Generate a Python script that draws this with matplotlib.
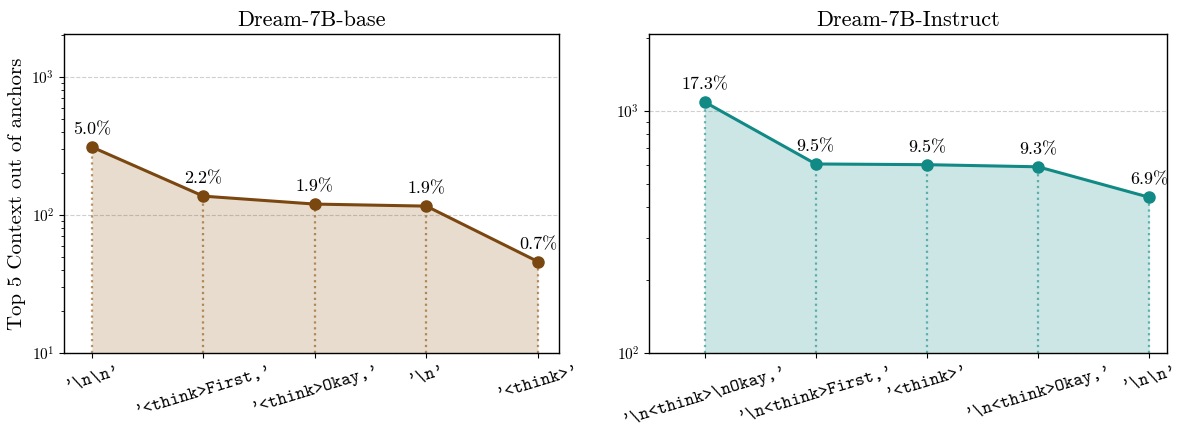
import matplotlib
matplotlib.use("Agg")
import matplotlib.pyplot as plt

plt.rcParams['font.family'] = 'serif'
plt.rcParams['font.serif'] = ['cmr10', 'DejaVu Serif']
plt.rcParams['mathtext.fontset'] = 'cm'
plt.rcParams['axes.formatter.use_mathtext'] = True

# ---- data ----
base_labels = ["'\\n\\n'", "'<think>First,'", "'<think>Okay,'", "'\\n'", "'<think>'"]
base_counts = [311, 137, 120, 116, 46]
base_pct = ["5.0%", "2.2%", "1.9%", "1.9%", "0.7%"]

inst_labels = ["'\\n<think>\\nOkay,'", "'\\n<think>First,'", "'<think>'", "'\\n<think>Okay,'", "'\\n\\n'"]
inst_counts = [1090, 604, 600, 588, 440]
inst_pct = ["17.3%", "9.5%", "9.5%", "9.3%", "6.9%"]

titles = ["Dream-7B-base", "Dream-7B-Instruct"]
ylabel = "Top 5 Context out of anchors"

fig = plt.figure(figsize=(11.8, 4.32), dpi=100)
ax1 = fig.add_axes([64/1180, 1-353/432, (559-64)/1180, (353-34)/432])
ax2 = fig.add_axes([649/1180, 1-353/432, (1167-649)/1180, (353-34)/432])

def draw(ax, labels, counts, pct, color, fillc, vcolor, ybottom, ytop, xlim, title):
    x = list(range(len(counts)))
    ax.set_yscale('log')
    ax.set_ylim(ybottom, ytop)
    ax.set_xlim(*xlim)
    ax.yaxis.grid(True, which='major', linestyle='--', color='#bbbbbb', alpha=0.7, linewidth=0.8)
    ax.set_axisbelow(True)
    ax.fill_between(x, counts, ybottom, color=fillc, alpha=0.2, linewidth=0, zorder=1)
    for xi, c in zip(x, counts):
        ax.plot([xi, xi], [ybottom, c], linestyle=':', color=vcolor, linewidth=1.6, alpha=0.6, zorder=2)
    ax.plot(x, counts, color=color, linewidth=2.2, marker='o', markersize=8, zorder=3)
    for xi, c, p in zip(x, counts, pct):
        ax.annotate(p, (xi, c), xytext=(0, 7), textcoords='offset points',
                    ha='center', va='bottom', fontsize=13)
    ax.set_xticks(x)
    ax.set_xticklabels(labels, rotation=17, ha='center', fontsize=13, family='cmtt10')
    ax.tick_params(axis='y', labelsize=11)
    ax.set_title(title, fontsize=16, pad=6)
    for s in ax.spines.values():
        s.set_linewidth(1.0)

draw(ax1, base_labels, base_counts, base_pct, '#7b4710', '#8c510a', '#8c510a',
     10, 2050, (-0.25, 4.19), titles[0])
draw(ax2, inst_labels, inst_counts, inst_pct, '#118a85', '#008080', '#118a85',
     100, 2080, (-0.5, 4.16), titles[1])
ax1.set_ylabel(ylabel, fontsize=15)

fig.savefig("out.png", dpi=100)
